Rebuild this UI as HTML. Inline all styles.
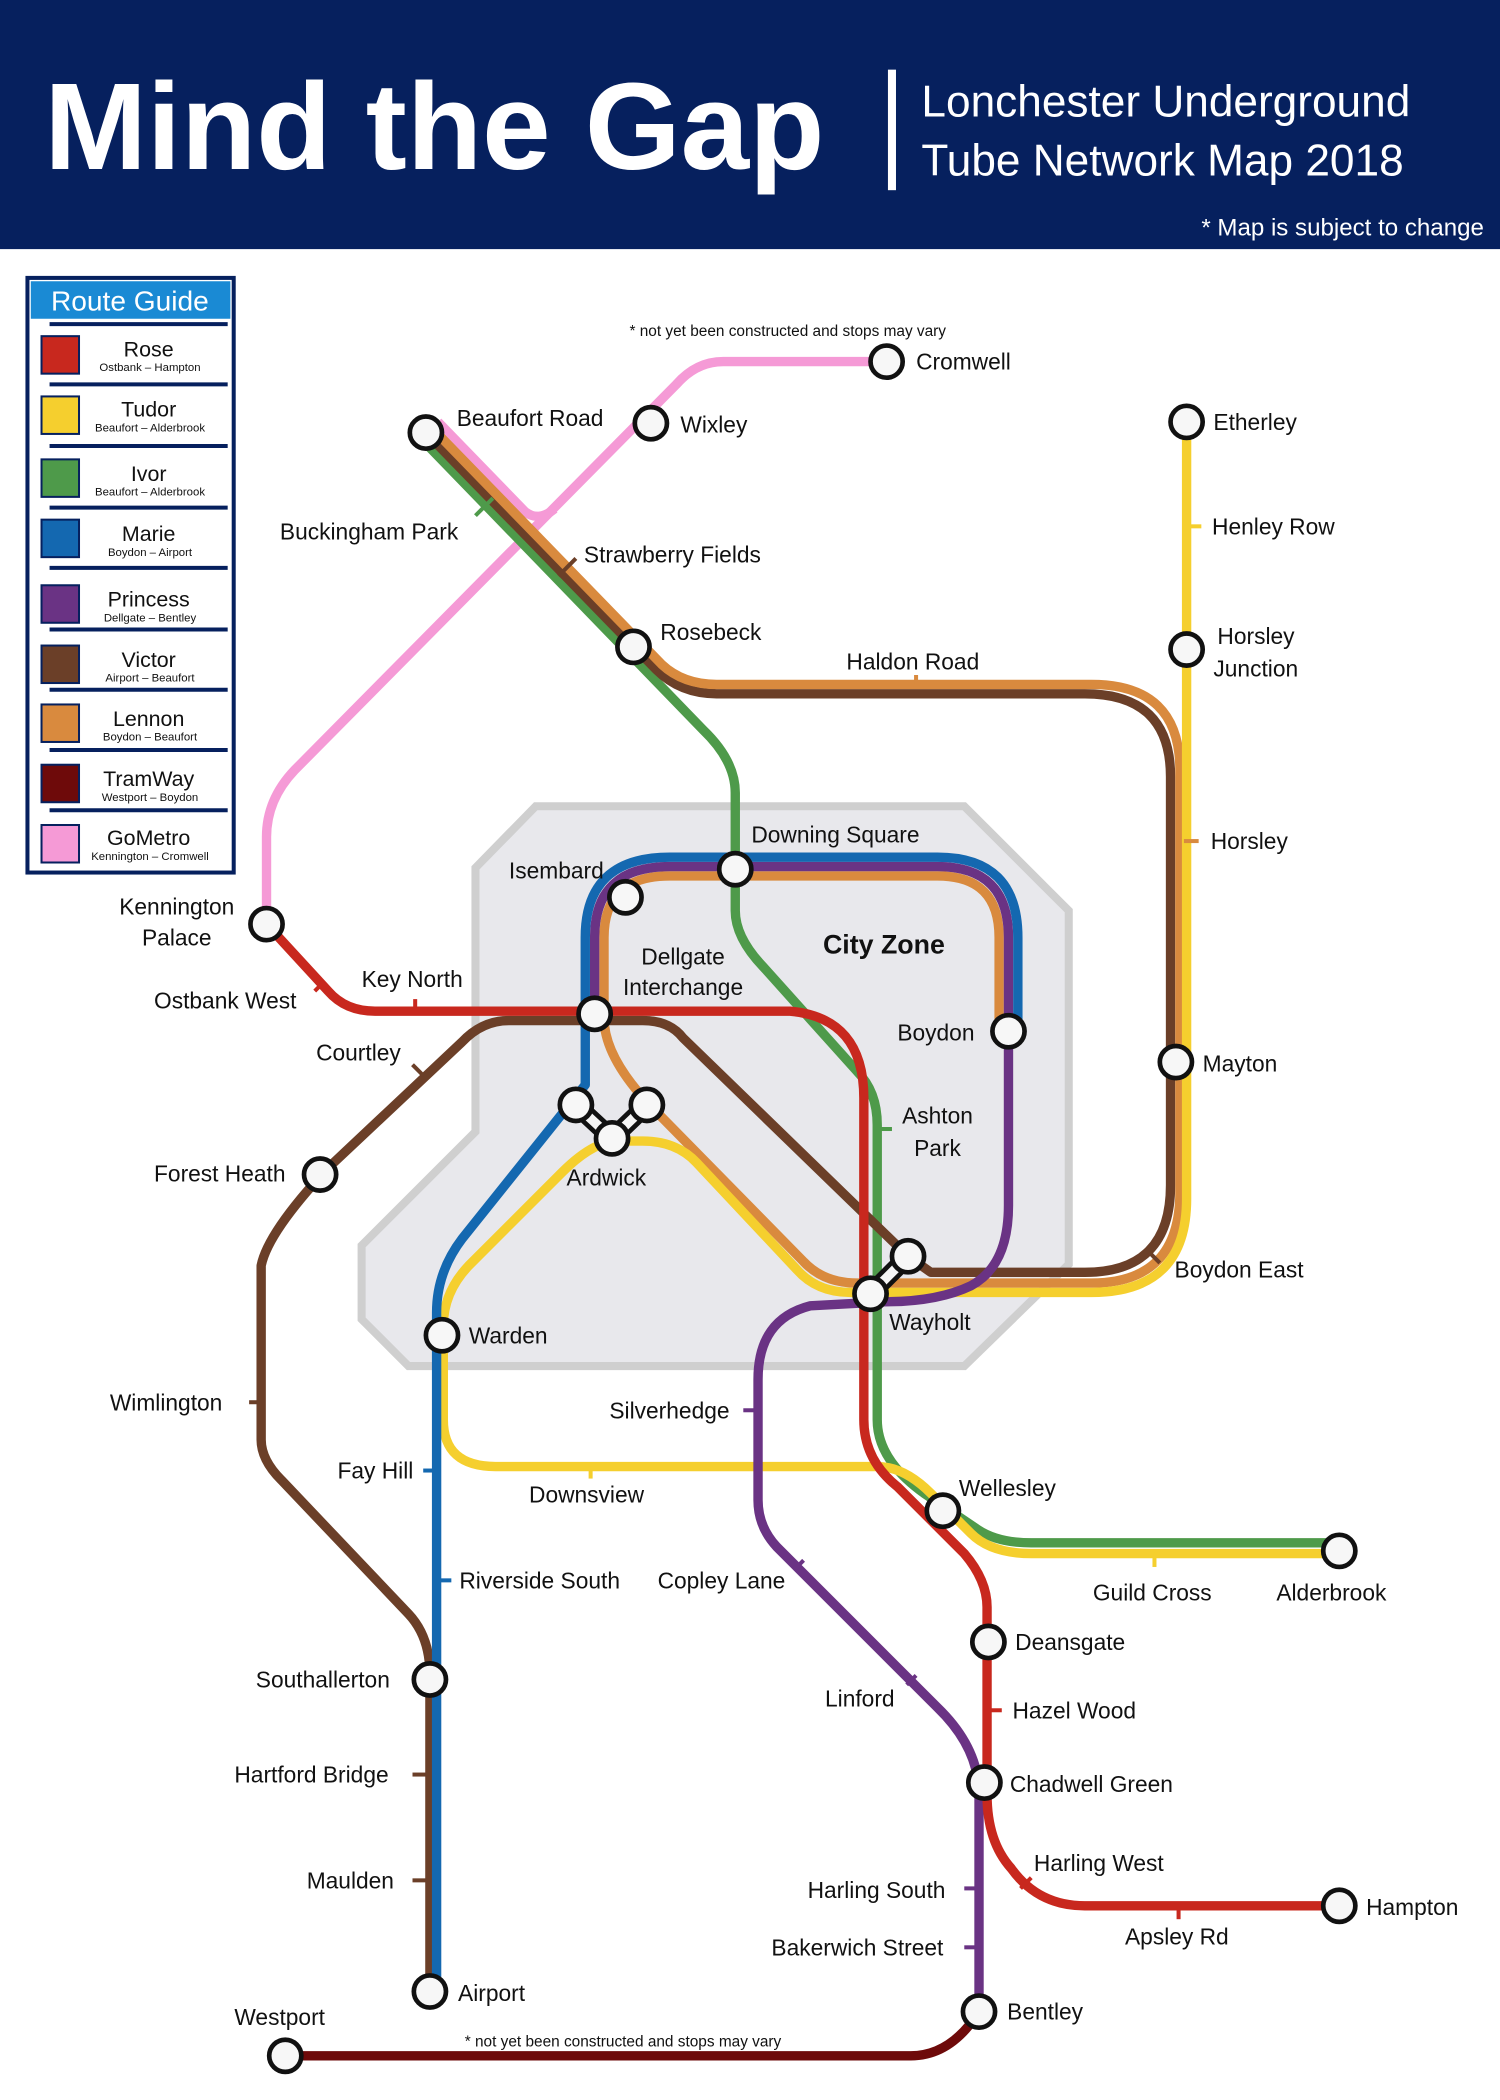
<!DOCTYPE html>
<html><head><meta charset="utf-8"><style>
html,body{margin:0;padding:0;background:#fff}
svg{display:block}
text{font-family:"Liberation Sans",sans-serif;fill:#111}
</style></head><body>
<svg width="1500" height="2100" viewBox="0 0 1120 1568" xmlns="http://www.w3.org/2000/svg">
<rect x="0" y="0" width="1120" height="1568" fill="#fff"/>
<rect x="0" y="0" width="1120" height="186" fill="#06205e"/>
<text x="33" y="126" font-size="92" font-weight="bold" style="fill:#fff">Mind the Gap</text>
<rect x="663" y="52" width="6" height="90" fill="#fff"/>
<text x="688" y="87" font-size="33" style="fill:#fff">Lonchester Underground</text>
<text x="688" y="131" font-size="33" style="fill:#fff">Tube Network Map 2018</text>
<text x="1108" y="176" font-size="18" text-anchor="end" style="fill:#fff">* Map is subject to change</text>

<rect x="20.5" y="207.5" width="154" height="444" fill="#fff" stroke="#06205e" stroke-width="3"/>
<rect x="23" y="210" width="149" height="28" fill="#1a8ad4"/>
<text x="97" y="232" font-size="21" text-anchor="middle" style="fill:#fff">Route Guide</text>
<g stroke="#06205e" stroke-width="3">
<line x1="37" y1="242" x2="170" y2="242"/><line x1="37" y1="287" x2="170" y2="287"/><line x1="37" y1="333" x2="170" y2="333"/><line x1="37" y1="379" x2="170" y2="379"/><line x1="37" y1="424" x2="170" y2="424"/><line x1="37" y1="470" x2="170" y2="470"/><line x1="37" y1="515" x2="170" y2="515"/><line x1="37" y1="560" x2="170" y2="560"/><line x1="37" y1="605" x2="170" y2="605"/>
</g>
<g stroke="#06205e" stroke-width="1.5">
<rect x="31" y="251" width="28" height="28" fill="#c8281e"/>
<rect x="31" y="296" width="28" height="28" fill="#f5cf2e"/>
<rect x="31" y="343" width="28" height="28" fill="#4e9a4a"/>
<rect x="31" y="388" width="28" height="28" fill="#1468b0"/>
<rect x="31" y="437" width="28" height="28" fill="#6a3384"/>
<rect x="31" y="482" width="28" height="28" fill="#6b3f28"/>
<rect x="31" y="526" width="28" height="28" fill="#d98a3e"/>
<rect x="31" y="571" width="28" height="28" fill="#6e0a0a"/>
<rect x="31" y="616" width="28" height="28" fill="#f59ad6"/>
</g>
<g text-anchor="middle">
<text x="111" y="266" font-size="16">Rose</text><text x="112" y="277" font-size="8.5">Ostbank – Hampton</text>
<text x="111" y="311" font-size="16">Tudor</text><text x="112" y="322" font-size="8.5">Beaufort – Alderbrook</text>
<text x="111" y="359" font-size="16">Ivor</text><text x="112" y="370" font-size="8.5">Beaufort – Alderbrook</text>
<text x="111" y="404" font-size="16">Marie</text><text x="112" y="415" font-size="8.5">Boydon – Airport</text>
<text x="111" y="453" font-size="16">Princess</text><text x="112" y="464" font-size="8.5">Dellgate – Bentley</text>
<text x="111" y="498" font-size="16">Victor</text><text x="112" y="509" font-size="8.5">Airport – Beaufort</text>
<text x="111" y="542" font-size="16">Lennon</text><text x="112" y="553" font-size="8.5">Boydon – Beaufort</text>
<text x="111" y="587" font-size="16">TramWay</text><text x="112" y="598" font-size="8.5">Westport – Boydon</text>
<text x="111" y="631" font-size="16">GoMetro</text><text x="112" y="642" font-size="8.5">Kennington – Cromwell</text>
</g>

<polygon points="400,602 720,602 798,680 798,944 720,1020 305,1020 270,985 270,930 355,845 355,648" fill="#e8e8ec" stroke="#cfcfcf" stroke-width="6"/>
<text x="660" y="712" font-size="20" font-weight="bold" text-anchor="middle">City Zone</text>

<g fill="none" stroke-width="7" stroke-linejoin="round">
<path d="M662,270 L540,270 Q520,270 505,287 L220,575 Q199,597 199,625 L199,690" stroke="#f59ad6"/>
<path d="M327,315 L392,382 Q402,390 414,380" stroke="#f59ad6"/>
<path d="M314,327 L525,545 Q549,568 549,592 L549,680 Q549,700 570,722 L640,800 Q655,815 655,840 L655,1060 Q655,1090 690,1115 L730,1142 Q745,1152 770,1152 L1000,1152" stroke="#4e9a4a"/>
<path d="M318,323 L490,500 Q508,518 535,518 L810,518 Q874,518 874,580 L874,885 Q874,950 810,950 L695,950 L678,938 L510,775 Q500,762 480,762 L380,762 Q360,762 345,778 L245,872 Q200,920 195,945 L195,1075 Q195,1090 210,1105 L305,1205 Q321,1222 321,1250 L321,1487" stroke="#6b3f28"/>
<path d="M322,319 L494,496 Q510,511 535,511 L815,511 Q881,511 881,575 L881,890 Q881,958 815,958 L640,958 Q615,958 600,942 L488,828 Q451,790 451,760 L451,700 Q451,654 500,654 L700,654 Q746,654 746,700 L746,770" stroke="#d98a3e"/>
<path d="M886,315 L886,895 Q886,965 815,965 L635,965 Q610,965 595,948 L520,868 Q505,852 480,852 L457,852 Q440,855 420,875 L350,945 Q331,965 331,990 L331,1060 Q331,1095 370,1095 L655,1095 Q675,1095 695,1115 L725,1145 Q740,1160 770,1160 L1000,1160" stroke="#f5cf2e"/>
<path d="M444,757 L444,700 Q444,647 500,647 L700,647 Q753,647 753,700 L753,900 Q753,945 725,960 Q700,972 660,972 L605,975 Q566,985 566,1030 L566,1120 Q566,1140 580,1155 L700,1275 Q731,1305 731,1340 L731,1502" stroke="#6a3384"/>
<path d="M760,770 L760,700 Q760,640 700,640 L500,640 Q437,640 437,700 L437,810 L345,925 Q326,950 326,980 L326,1487" stroke="#1468b0"/>
<path d="M199,690 L245,740 Q258,755 280,755 L590,755 Q645,760 645,820 L645,1060 Q645,1090 670,1110 L720,1160 Q737,1180 737,1200 L737,1340 Q737,1375 755,1395 Q775,1423 810,1423 L1000,1423" stroke="#c8281e"/>
<path d="M213,1535 L680,1535 Q710,1535 731,1502" stroke="#6e0a0a"/>
</g>

<g stroke-width="3">
<line x1="355" y1="385" x2="368" y2="372" stroke="#4e9a4a"/>
<line x1="417" y1="430" x2="430" y2="417" stroke="#6b3f28"/>
<line x1="684" y1="511" x2="684" y2="504" stroke="#d98a3e"/>
<line x1="889" y1="393" x2="897" y2="393" stroke="#f5cf2e"/>
<line x1="884" y1="628" x2="895" y2="628" stroke="#d98a3e"/>
<line x1="310" y1="755" x2="310" y2="746" stroke="#c8281e"/>
<line x1="235" y1="740" x2="242" y2="733" stroke="#c8281e"/>
<line x1="308" y1="795" x2="316" y2="803" stroke="#6b3f28"/>
<line x1="657" y1="843" x2="666" y2="843" stroke="#4e9a4a"/>
<line x1="858" y1="935" x2="866" y2="943" stroke="#6b3f28"/>
<line x1="186" y1="1047" x2="192" y2="1047" stroke="#6b3f28"/>
<line x1="316" y1="1098" x2="323" y2="1098" stroke="#1468b0"/>
<line x1="441" y1="1095" x2="441" y2="1104" stroke="#f5cf2e"/>
<line x1="555" y1="1053" x2="563" y2="1053" stroke="#6a3384"/>
<line x1="329" y1="1180" x2="337" y2="1180" stroke="#1468b0"/>
<line x1="593" y1="1172" x2="600" y2="1165" stroke="#6a3384"/>
<line x1="862" y1="1160" x2="862" y2="1170" stroke="#f5cf2e"/>
<line x1="677" y1="1258" x2="684" y2="1251" stroke="#6a3384"/>
<line x1="740" y1="1277" x2="748" y2="1277" stroke="#c8281e"/>
<line x1="308" y1="1325" x2="318" y2="1325" stroke="#6b3f28"/>
<line x1="308" y1="1404" x2="318" y2="1404" stroke="#6b3f28"/>
<line x1="762" y1="1410" x2="770" y2="1402" stroke="#c8281e"/>
<line x1="720" y1="1410" x2="728" y2="1410" stroke="#6a3384"/>
<line x1="720" y1="1454" x2="728" y2="1454" stroke="#6a3384"/>
<line x1="880" y1="1423" x2="880" y2="1433" stroke="#c8281e"/>
</g>

<g stroke="#111" stroke-width="14" stroke-linecap="round"><path d="M430,825 L457,850 L483,825" fill="none"/><line x1="650" y1="966" x2="678" y2="938"/></g>
<g stroke="#f5f5f5" stroke-width="7" stroke-linecap="round"><path d="M430,825 L457,850 L483,825" fill="none"/><line x1="650" y1="966" x2="678" y2="938"/></g>

<g fill="#f7f7f7" stroke="#111" stroke-width="3.5">
<circle cx="662" cy="270" r="12"/><circle cx="486" cy="316" r="12"/><circle cx="318" cy="323" r="12"/><circle cx="886" cy="315" r="12"/>
<circle cx="473" cy="483" r="12"/><circle cx="886" cy="485" r="12"/><circle cx="467" cy="670" r="12"/><circle cx="549" cy="649" r="12"/>
<circle cx="199" cy="690" r="12"/><circle cx="444" cy="757" r="12"/><circle cx="753" cy="770" r="12"/><circle cx="878" cy="793" r="12"/>
<circle cx="430" cy="825" r="12"/><circle cx="483" cy="825" r="12"/><circle cx="457" cy="850" r="12"/>
<circle cx="239" cy="877" r="12"/><circle cx="650" cy="966" r="12"/><circle cx="678" cy="938" r="12"/>
<circle cx="330" cy="997" r="12"/><circle cx="704" cy="1128" r="12"/><circle cx="1000" cy="1158" r="12"/>
<circle cx="738" cy="1226" r="12"/><circle cx="321" cy="1254" r="12"/><circle cx="735" cy="1331" r="12"/>
<circle cx="1000" cy="1423" r="12"/><circle cx="321" cy="1487" r="12"/><circle cx="731" cy="1502" r="12"/><circle cx="213" cy="1535" r="12"/>
</g>

<g font-size="17">
<text x="470" y="251" font-size="11.5">* not yet been constructed and stops may vary</text>
<text x="684" y="276">Cromwell</text>
<text x="341" y="318">Beaufort Road</text>
<text x="508" y="323">Wixley</text>
<text x="906" y="321">Etherley</text>
<text x="209" y="403">Buckingham Park</text>
<text x="436" y="420">Strawberry Fields</text>
<text x="905" y="399">Henley Row</text>
<text x="493" y="478">Rosebeck</text>
<text x="632" y="500">Haldon Road</text>
<text x="909" y="481">Horsley</text>
<text x="906" y="505">Junction</text>
<text x="904" y="634">Horsley</text>
<text x="561" y="629">Downing Square</text>
<text x="380" y="656">Isembard</text>
<text x="132" y="683" text-anchor="middle">Kennington</text>
<text x="132" y="706" text-anchor="middle">Palace</text>
<text x="510" y="720" text-anchor="middle">Dellgate</text>
<text x="510" y="743" text-anchor="middle">Interchange</text>
<text x="270" y="737">Key North</text>
<text x="115" y="753">Ostbank West</text>
<text x="670" y="777">Boydon</text>
<text x="898" y="800">Mayton</text>
<text x="236" y="792">Courtley</text>
<text x="700" y="839" text-anchor="middle">Ashton</text>
<text x="700" y="863" text-anchor="middle">Park</text>
<text x="115" y="882">Forest Heath</text>
<text x="423" y="885">Ardwick</text>
<text x="877" y="954">Boydon East</text>
<text x="664" y="993">Wayholt</text>
<text x="350" y="1003">Warden</text>
<text x="82" y="1053">Wimlington</text>
<text x="455" y="1059">Silverhedge</text>
<text x="252" y="1104">Fay Hill</text>
<text x="395" y="1122">Downsview</text>
<text x="716" y="1117">Wellesley</text>
<text x="343" y="1186">Riverside South</text>
<text x="491" y="1186">Copley Lane</text>
<text x="816" y="1195">Guild Cross</text>
<text x="953" y="1195">Alderbrook</text>
<text x="758" y="1232">Deansgate</text>
<text x="191" y="1260">Southallerton</text>
<text x="616" y="1274">Linford</text>
<text x="756" y="1283">Hazel Wood</text>
<text x="175" y="1331">Hartford Bridge</text>
<text x="754" y="1338">Chadwell Green</text>
<text x="772" y="1397">Harling West</text>
<text x="229" y="1410">Maulden</text>
<text x="603" y="1417">Harling South</text>
<text x="1020" y="1430">Hampton</text>
<text x="840" y="1452">Apsley Rd</text>
<text x="576" y="1460">Bakerwich Street</text>
<text x="342" y="1494">Airport</text>
<text x="752" y="1508">Bentley</text>
<text x="175" y="1512">Westport</text>
<text x="347" y="1528" font-size="11.5">* not yet been constructed and stops may vary</text>
</g>
</svg>
</body></html>
